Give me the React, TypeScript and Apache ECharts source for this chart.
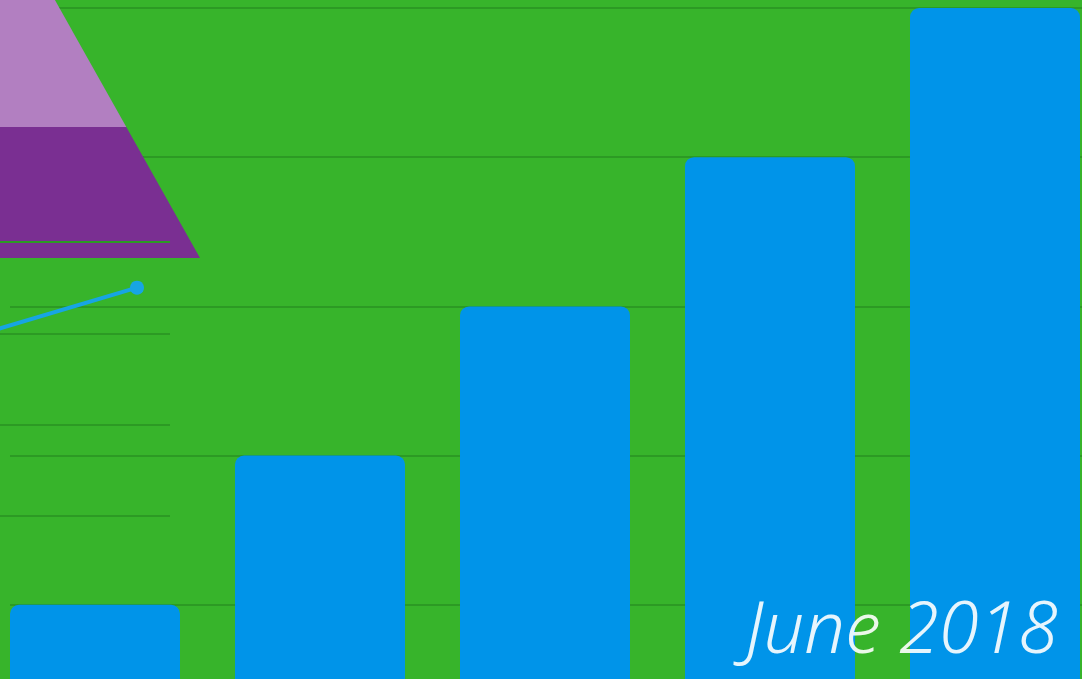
import React, { useEffect, useRef } from "react";
import * as echarts from "echarts";

const barCategories = ["Jan", "Feb", "Mar", "Apr", "May"];
const barValues = [1, 2, 3, 4, 5];

const funnelNames = ["Top", "Middle", "Bottom"];
const funnelValues = [1, 2, 3];
const funnelColors = ["#c9a3d6", "#b27fc1", "#7a2f92"];

const lineCategories = ["Q1", "Q2"];
const lineValues = [1.5, 2.5];

const caption = "June 2018";

export default function App() {
  const ref = useRef<HTMLDivElement>(null);
  useEffect(() => {
    if (!ref.current) return;
    const chart = echarts.init(ref.current, null, { renderer: "svg" });
    const hiddenAxis = { axisLabel: { show: false }, axisLine: { show: false }, axisTick: { show: false } };
    chart.setOption({
      animation: false,
      backgroundColor: "#37b42b",
      grid: [
        { left: -17.5, top: 8, width: 1125, height: 746, outerBoundsMode: "none", containLabel: false },
        { left: 10, top: 8, width: 1100, height: 746, outerBoundsMode: "none", containLabel: false },
        { left: 0, top: 242, width: 170, height: 274, outerBoundsMode: "none", containLabel: false },
        { left: -171, top: 242, width: 308, height: 274, outerBoundsMode: "none", containLabel: false },
      ],
      xAxis: [
        { type: "category", gridIndex: 0, data: barCategories, show: false },
        { type: "value", gridIndex: 1, min: 0, max: 1, show: false },
        { type: "value", gridIndex: 2, min: 0, max: 1, show: false },
        { type: "category", gridIndex: 3, data: lineCategories, boundaryGap: false, show: false },
      ],
      yAxis: [
        { type: "value", gridIndex: 0, min: 0, max: 5, interval: 1, ...hiddenAxis, splitLine: { show: false } },
        {
          type: "value", gridIndex: 1, min: 0, max: 5, interval: 1, ...hiddenAxis,
          splitLine: { show: true, lineStyle: { color: "#2c9a24", width: 2 } },
        },
        {
          type: "value", gridIndex: 2, min: 0, max: 3, interval: 1, z: 5, ...hiddenAxis,
          splitLine: { show: true, lineStyle: { color: "#2c9a24", width: 2 } },
        },
        { type: "value", gridIndex: 3, min: 0, max: 3, interval: 1, ...hiddenAxis, splitLine: { show: false } },
      ],
      series: [
        {
          type: "bar",
          xAxisIndex: 0,
          yAxisIndex: 0,
          data: barValues,
          barWidth: 170,
          itemStyle: { color: "#0094e9", borderRadius: [9, 9, 0, 0] },
          z: 3,
        },
        {
          type: "funnel",
          left: -242,
          top: -135,
          width: 442,
          height: 393,
          min: 0,
          max: 3,
          sort: "ascending",
          gap: 0,
          label: { show: false },
          labelLine: { show: false },
          itemStyle: { borderWidth: 0 },
          data: funnelNames.map((n, i) => ({ name: n, value: funnelValues[i], itemStyle: { color: funnelColors[i] } })),
          z: 2,
        },
        {
          type: "line",
          xAxisIndex: 3,
          yAxisIndex: 3,
          data: lineValues,
          symbol: "circle",
          symbolSize: 14,
          lineStyle: { color: "#17a5e3", width: 4 },
          itemStyle: { color: "#17a5e3" },
          z: 6,
        },
      ],
      graphic: [
        {
          type: "text",
          right: 24,
          top: 589,
          z: 10,
          style: {
            text: caption,
            fill: "rgba(255,255,255,0.9)",
            font: "italic 300 72px 'Noto Sans', sans-serif",
          },
        },
      ],
    });
    return () => chart.dispose();
  }, []);
  return <div ref={ref} style={{ position: "fixed", left: 0, top: 0, width: 1082, height: 679 }} />;
}
